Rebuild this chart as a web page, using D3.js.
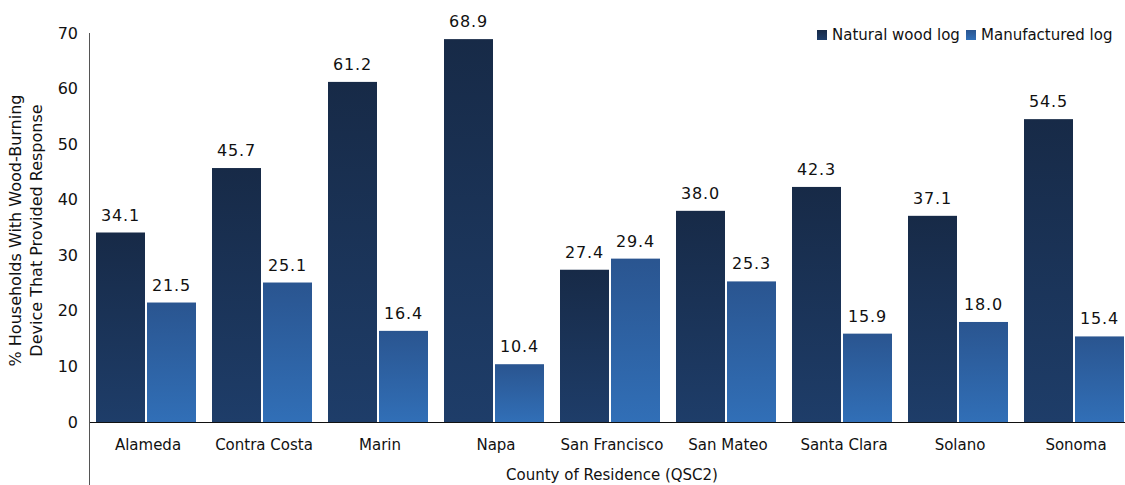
<!DOCTYPE html>
<html><head><meta charset="utf-8">
<script src="https://cdn.jsdelivr.net/npm/d3@7"></script>
<style>body{margin:0;background:#fff}text{font-family:"DejaVu Sans",sans-serif;fill:#111}</style>
</head><body>
<svg id="c" width="1125" height="485"></svg>
<script>
const categories = ["Alameda","Contra Costa","Marin","Napa","San Francisco","San Mateo","Santa Clara","Solano","Sonoma"];
const seriesNames = ["Natural wood log","Manufactured log"];
const naturalWood = [34.1,45.7,61.2,68.9,27.4,38.0,42.3,37.1,54.5];
const manufactured = [21.5,25.1,16.4,10.4,29.4,25.3,15.9,18.0,15.4];
const yTicks = [0,10,20,30,40,50,60,70];

(function(){
const svg = d3.select("#c");
const pL = 90, pR = 1134, pT = 33, pB = 422;
const x = d3.scaleBand().domain(categories).range([pL, pR]).paddingInner(0).paddingOuter(0);
const y = d3.scaleLinear().domain([0,70]).range([pB, pT]);

const defs = svg.append("defs");
const g1 = defs.append("linearGradient").attr("id","gN").attr("x1",0).attr("y1",0).attr("x2",0).attr("y2",1);
g1.append("stop").attr("offset","0%").attr("stop-color","#172a47");
g1.append("stop").attr("offset","100%").attr("stop-color","#1e3d69");
const g2 = defs.append("linearGradient").attr("id","gM").attr("x1",0).attr("y1",0).attr("x2",0).attr("y2",1);
g2.append("stop").attr("offset","0%").attr("stop-color","#2a5590");
g2.append("stop").attr("offset","100%").attr("stop-color","#316fb7");

const bw = 49, off = 6, gap = 2;
const series = [naturalWood, manufactured];
const fills = ["url(#gN)","url(#gM)"];
series.forEach((vals, si) => {
  const gg = svg.append("g");
  gg.selectAll("rect").data(categories).join("rect")
    .attr("x", d => x(d) + off + si*(bw+gap))
    .attr("y", (d,i) => y(vals[i]))
    .attr("width", bw)
    .attr("height", (d,i) => y(0) - y(vals[i]))
    .attr("fill", fills[si]);
  gg.selectAll("text").data(categories).join("text")
    .attr("x", d => x(d) + off + si*(bw+gap) + bw/2)
    .attr("y", (d,i) => y(vals[i]) - 12)
    .attr("text-anchor","middle")
    .style("font-size","16px").style("letter-spacing","0.8px")
    .text((d,i) => vals[i].toFixed(1));
});

const yAxis = svg.append("g").attr("transform",`translate(${pL},0)`)
  .call(d3.axisLeft(y).tickValues(yTicks).tickSize(0).tickPadding(12));
yAxis.select(".domain").remove();
yAxis.selectAll("text").style("font-size","16px").attr("fill","#111");
svg.append("line").attr("x1",pL-0.5).attr("x2",pL-0.5).attr("y1",pT).attr("y2",485)
  .attr("stroke","#555").attr("stroke-width",1);

const xAxis = svg.append("g").attr("transform",`translate(0,${pB})`)
  .call(d3.axisBottom(x).tickSize(0).tickPadding(17));
xAxis.select(".domain").remove();
xAxis.selectAll("text").style("font-size","15px").attr("fill","#111");
svg.append("line").attr("x1",pL).attr("x2",1125).attr("y1",pB+0.5).attr("y2",pB+0.5)
  .attr("stroke","#111").attr("stroke-width",1);

svg.append("text").attr("x",612).attr("y",480).attr("text-anchor","middle")
  .style("font-size","15px").text("County of Residence (QSC2)");

const yt = svg.append("text").attr("transform",`translate(21,${(pT+pB)/2+3}) rotate(-90)`)
  .attr("text-anchor","middle").style("font-size","16px");
yt.append("tspan").attr("x",0).attr("dy",0).text("% Households With Wood-Burning");
yt.append("tspan").attr("x",0).attr("dy",21).text("Device That Provided Response");

const legX = [817, 966];
seriesNames.forEach((n,i) => {
  svg.append("rect").attr("x",legX[i]).attr("y",30).attr("width",10).attr("height",10).attr("fill",fills[i]);
  svg.append("text").attr("x",legX[i]+15).attr("y",40).style("font-size","15px").text(n);
});
})();
</script>
</body></html>
